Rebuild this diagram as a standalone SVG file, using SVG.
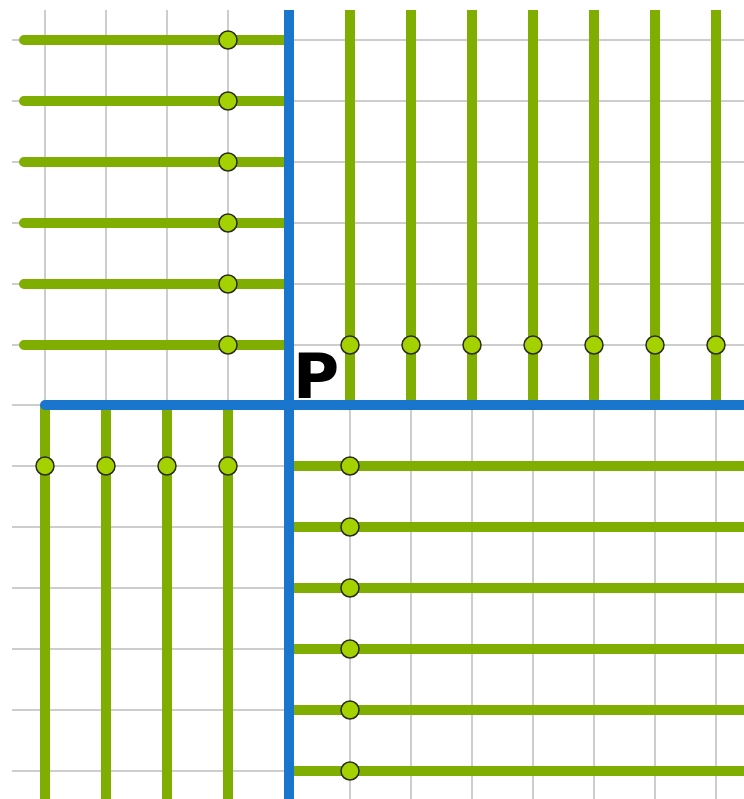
<svg xmlns="http://www.w3.org/2000/svg" width="744" height="799" viewBox="0 0 744 799">
<style>
.grid line{stroke:#bdbdbd;stroke-width:1.5}
.g{stroke:#7fae00;stroke-width:10;stroke-linecap:butt;fill:none}
.b{stroke:#1976cc;stroke-width:10;fill:none}
.d{fill:#a3d200;stroke:#2a2a1a;stroke-width:1.5}
</style>
<rect width="744" height="799" fill="#fff"/>
<g class="grid" id="grid">
<line x1="45" y1="10" x2="45" y2="799"/><line x1="106" y1="10" x2="106" y2="799"/><line x1="167" y1="10" x2="167" y2="799"/><line x1="228" y1="10" x2="228" y2="799"/><line x1="289" y1="10" x2="289" y2="799"/><line x1="350" y1="10" x2="350" y2="799"/><line x1="411" y1="10" x2="411" y2="799"/><line x1="472" y1="10" x2="472" y2="799"/><line x1="533" y1="10" x2="533" y2="799"/><line x1="594" y1="10" x2="594" y2="799"/><line x1="655" y1="10" x2="655" y2="799"/><line x1="716" y1="10" x2="716" y2="799"/>
<line x1="12" y1="40" x2="744" y2="40"/><line x1="12" y1="101" x2="744" y2="101"/><line x1="12" y1="162" x2="744" y2="162"/><line x1="12" y1="223" x2="744" y2="223"/><line x1="12" y1="284" x2="744" y2="284"/><line x1="12" y1="345" x2="744" y2="345"/><line x1="12" y1="405" x2="744" y2="405"/><line x1="12" y1="466" x2="744" y2="466"/><line x1="12" y1="527" x2="744" y2="527"/><line x1="12" y1="588" x2="744" y2="588"/><line x1="12" y1="649" x2="744" y2="649"/><line x1="12" y1="710" x2="744" y2="710"/><line x1="12" y1="771" x2="744" y2="771"/>
</g>
<g id="connectors">
<g id="topleft" class="g">
<path d="M24 40H284M24 101H284M24 162H284M24 223H284M24 284H284M24 345H284" stroke-linecap="round"/>
</g>
<g id="topright" class="g">
<path d="M350 10V400M411 10V400M472 10V400M533 10V400M594 10V400M655 10V400M716 10V400"/>
</g>
<g id="bottomleft" class="g">
<path d="M45 405V799M106 405V799M167 405V799M228 405V799"/>
</g>
<g id="bottomright" class="g">
<path d="M289 466H744M289 527H744M289 588H744M289 649H744M289 710H744M289 771H744"/>
</g>
<g id="axes" class="b">
<path d="M289 10V799"/>
<path d="M45 405H744" stroke-linecap="round"/>
</g>
</g>
<g id="dots" class="d">
<circle cx="228" cy="40" r="9"/><circle cx="228" cy="101" r="9"/><circle cx="228" cy="162" r="9"/><circle cx="228" cy="223" r="9"/><circle cx="228" cy="284" r="9"/><circle cx="228" cy="345" r="9"/>
<circle cx="350" cy="345" r="9"/><circle cx="411" cy="345" r="9"/><circle cx="472" cy="345" r="9"/><circle cx="533" cy="345" r="9"/><circle cx="594" cy="345" r="9"/><circle cx="655" cy="345" r="9"/><circle cx="716" cy="345" r="9"/>
<circle cx="45" cy="466" r="9"/><circle cx="106" cy="466" r="9"/><circle cx="167" cy="466" r="9"/><circle cx="228" cy="466" r="9"/>
<circle cx="350" cy="466" r="9"/><circle cx="350" cy="527" r="9"/><circle cx="350" cy="588" r="9"/><circle cx="350" cy="649" r="9"/><circle cx="350" cy="710" r="9"/><circle cx="350" cy="771" r="9"/>
</g>
<g id="P"><text x="293" y="398" font-family="DejaVu Sans, sans-serif" font-weight="bold" font-size="63" fill="#000">P</text></g>
</svg>
